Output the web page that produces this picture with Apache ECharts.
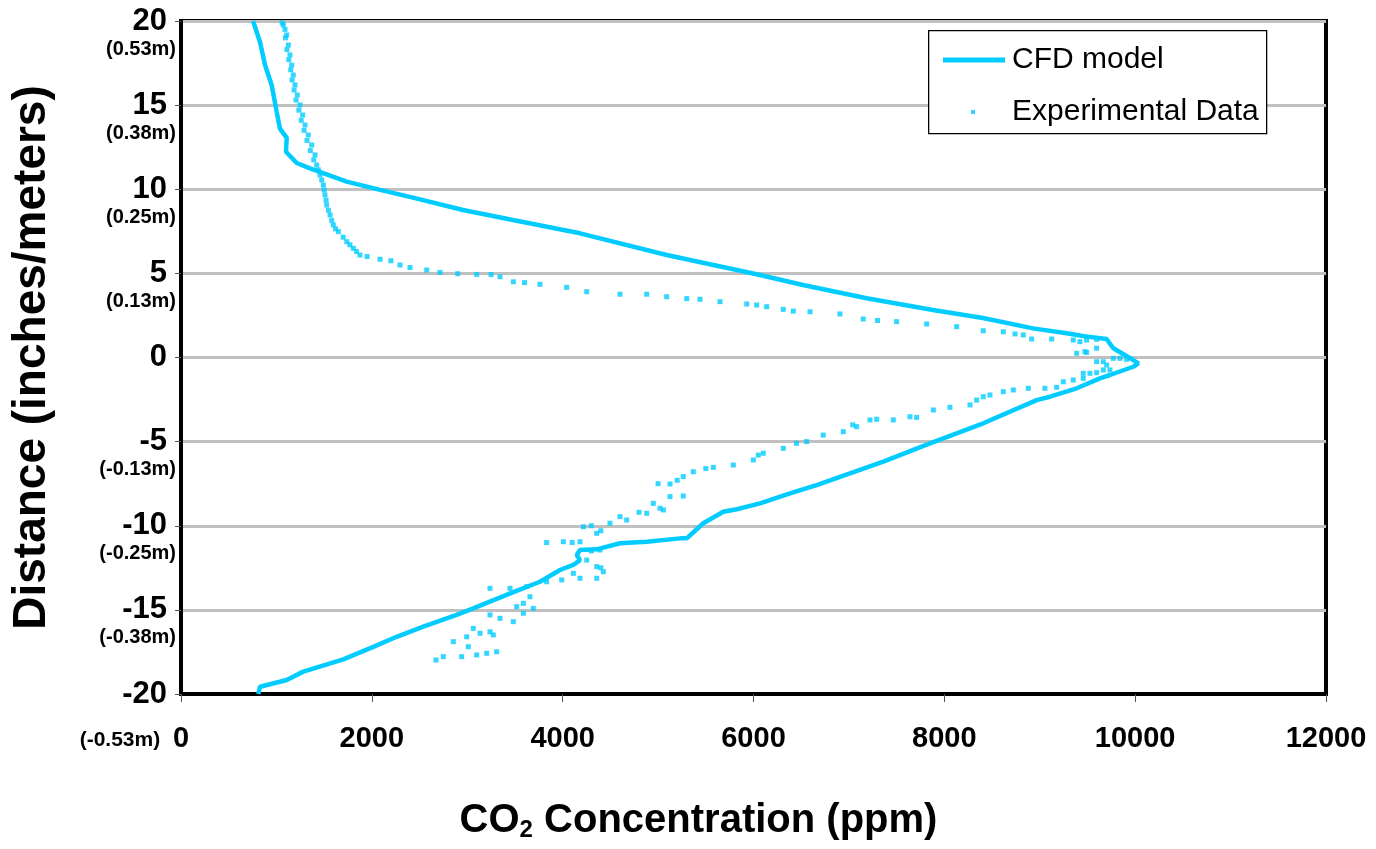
<!DOCTYPE html>
<html>
<head>
<meta charset="utf-8">
<script src="https://cdn.jsdelivr.net/npm/echarts@6/dist/echarts.min.js"></script>
<style>
html,body{margin:0;padding:0;background:#fff;}
#chart{width:1376px;height:849px;}
</style>
</head>
<body>
<div id="chart"></div>
<script>
// ---- data ----
const yTicks = [20, 15, 10, 5, 0, -5, -10, -15, -20];
const yMeters = {"20": "(0.53m)", "15": "(0.38m)", "10": "(0.25m)", "5": "(0.13m)", "0": "", "-5": "(-0.13m)", "-10": "(-0.25m)", "-15": "(-0.38m)", "-20": "(-0.53m)"};
const xTicks = [0, 2000, 4000, 6000, 8000, 10000, 12000];

const cfdConc = [755, 828, 880, 950, 1003, 1037, 1108, 1100, 1213, 1352, 1737, 2086, 2431, 2955, 3479, 4182, 5090, 6033, 6519, 7186, 7881, 8405, 8929, 9282, 9492, 9420, 9700, 9771, 9980, 10033, 9980, 9736, 9631, 9387, 9107, 8968, 8408, 7850, 7360, 7011, 6662, 6382, 6068, 5824, 5683, 5474, 5300, 5229, 4881, 4601, 4357, 4182, 4147, 4182, 4111, 3972, 3762, 3483, 3063, 2889, 2539, 2260, 2015, 1701, 1282, 1108, 828, 810];
const cfdDist = [20, 18.75, 17.4, 16.2, 14.6, 13.6, 13.05, 12.23, 11.56, 11.24, 10.45, 9.96, 9.5, 8.77, 8.17, 7.38, 6.09, 4.95, 4.31, 3.52, 2.82, 2.35, 1.73, 1.44, 1.24, 1.3, 1.1, 0.55, -0.15, -0.35, -0.55, -1.04, -1.24, -1.83, -2.33, -2.53, -3.91, -5.1, -6.19, -6.88, -7.58, -8.07, -8.67, -9.02, -9.17, -9.85, -10.75, -10.75, -10.95, -11.04, -11.4, -11.44, -11.74, -12.04, -12.33, -12.63, -13.33, -13.95, -14.91, -15.3, -16.0, -16.6, -17.2, -17.94, -18.67, -19.17, -19.57, -20];

const expConc = [1037,1060,1072,1090,1108,1095,1125,1110,1142,1130,1160,1150,1177,1165,1195,1185,1219,1205,1247,1235,1275,1260,1300,1290,1334,1320,1370,1355,1405,1390,1422,1440,1457,1475,1492,1500,1509,1520,1527,1545,1562,1580,1596,1620,1649,1700,1737,1770,1806,1840,1876,
 1950,2086,2200,2295,2400,2575,2714,2900,3099,3250,3343,3483,3600,3762,4042,4252,4601,4881,5090,5300,5439,5649,5929,6033,6138,6312,6417,6592,6906,7150,7300,7500,7815,8129,8408,8618,8741,8827,8915,9125,9351,9421,9491,9597,
 9387,9474,9596,9491,9596,9666,9701,9736,9771,9841,9911,9456,9526,9596,9666,9456,9351,9247,9177,9054,8880,8723,8618,
 8478,8408,8339,8269,8059,7885,7710,7640,7465,7291,7221,7081,7040,6941,6731,6557,6450,6312,6103,6050,5998,5788,5579,5500,5369,5264,5200,5125,5000,5125,5264,4950,5020,5055,4881,4800,4601,4671,4496,4217,4300,4357,4400,4007,3832,4182,4100,4391,4300,4252,4357,4426,4357,4182,4112,4400,3990,3832,3623,3448,3238,3657,3588,3692,3518,3588,3483,3238,3343,3063,3134,3238,3273,2854,2994,3011,3099,3204,3308,2941,2749,2672];
const expDist = [20.04,19.9,19.76,19.5,19.17,19.0,18.57,18.3,17.98,17.7,17.38,17.1,16.79,16.5,16.2,15.9,15.6,15.3,15.01,14.7,14.41,14.1,13.82,13.5,13.22,12.9,12.63,12.3,12.04,11.75,11.44,11.15,10.85,10.55,10.25,9.95,9.66,9.35,9.06,8.75,8.47,8.15,7.88,7.65,7.48,7.15,6.88,6.7,6.49,6.3,6.09,
 6.0,5.84,5.75,5.5,5.35,5.2,5.06,4.98,4.94,4.93,4.8,4.5,4.45,4.35,4.17,3.91,3.76,3.76,3.61,3.5,3.46,3.32,3.18,3.12,3.02,2.86,2.76,2.72,2.59,2.29,2.2,2.13,1.99,1.83,1.59,1.53,1.4,1.34,1.1,1.1,1.04,0.94,1.04,1.08,
 0.25,0.35,0.55,0.3,-0.25,-0.25,-0.45,-0.74,-0.05,-0.05,-0.11,-0.94,-0.94,-0.9,-0.74,-1.24,-1.34,-1.44,-1.77,-1.83,-1.83,-1.93,-2.03,
 -2.23,-2.33,-2.53,-2.82,-2.96,-3.12,-3.56,-3.52,-3.71,-3.67,-3.71,-4.11,-4.0,-4.41,-4.61,-5.0,-5.1,-5.4,-5.69,-5.8,-6.09,-6.39,-6.53,-6.6,-6.79,-7.08,-7.3,-7.52,-7.5,-8.27,-8.23,-8.67,-8.96,-9.06,-9.26,-9.2,-9.46,-9.66,-9.85,-10.06,-10.0,-10.45,-10.3,-10.95,-11.0,-10.95,-11.0,-11.44,-11.5,-12.04,-12.43,-12.73,-13.12,-13.12,-12.83,-12.5,-13.22,-13.33,-13.62,-13.72,-13.72,-14.22,-14.61,-14.91,-14.81,-15.2,-15.7,-15.3,-15.5,-16.1,-16.39,-16.3,-16.49,-16.89,-16.6,-17.19,-17.68,-17.58,-17.49,-17.78,-17.78,-17.98];

// ---- chart ----
const CYAN = '#00CCFF';
const SANS = '"Liberation Sans", Arial, sans-serif';

const chart = echarts.init(document.getElementById('chart'), null, {renderer: 'canvas'});

const option = {
  backgroundColor: '#fff',
  animation: false,
  grid: {left: 181, right: 50, top: 21, bottom: 155, outerBoundsMode: 'none', containLabel: false,
         show: true, borderColor: '#000', borderWidth: 4, backgroundColor: 'transparent'},
  xAxis: {
    type: 'value', min: xTicks[0], max: xTicks[xTicks.length - 1], interval: 2000,
    name: '{a|CO}{s|2}{a| Concentration (ppm)}',
    nameLocation: 'middle', nameGap: 106,
    nameTextStyle: {
      padding: [0, 110, 0, 0],
      rich: {
        a: {fontFamily: SANS, fontWeight: 'bold', fontSize: 40, color: '#000'},
        s: {fontFamily: SANS, fontWeight: 'bold', fontSize: 24, color: '#000', padding: [18, 0, 0, 0]}
      }
    },
    axisLine: {show: true, onZero: false, lineStyle: {color: '#000', width: 4}},
    axisTick: {show: true, length: 8, lineStyle: {color: '#555', width: 1}},
    splitLine: {show: false},
    axisLabel: {
      margin: 30, color: '#000', showMinLabel: true, showMaxLabel: true,
      formatter: function (v) {
        // the bottom y tick's metric note sits on the same row as the x axis's first label
        if (v === 0) return '{m|' + yMeters['-20'] + '}{q|}{v|' + v + '}{p|}';
        return '{v|' + v + '}';
      },
      rich: {
        v: {fontFamily: SANS, fontWeight: 'bold', fontSize: 29, color: '#000'},
        m: {fontFamily: SANS, fontWeight: 'bold', fontSize: 21, color: '#000', width: 90, align: 'right', padding: [3, 0, 0, 0]},
        q: {width: 8},
        p: {width: 98}
      }
    }
  },
  yAxis: {
    type: 'value', min: -20, max: 20, interval: 5,
    name: 'Distance (inches/meters)',
    nameLocation: 'middle', nameGap: 126, nameRotate: 90,
    nameTextStyle: {fontFamily: SANS, fontWeight: 'bold', fontSize: 46, color: '#000'},
    axisLine: {show: true, onZero: false, lineStyle: {color: '#000', width: 3}},
    axisTick: {show: true, length: 6, lineStyle: {color: '#555', width: 1}},
    splitLine: {show: true, lineStyle: {color: '#C0C0C0', width: 3}},
    axisLabel: {
      margin: 5, align: 'right', showMinLabel: true, showMaxLabel: true,
      formatter: function (v) {
        const m = yMeters[String(v)];
        if (!m || v === -20) return '{n|' + v + '}';
        return '{g| }\n{n|' + v + '}\n{m|' + m + '}';
      },
      rich: {
        n: {fontFamily: SANS, fontWeight: 'bold', fontSize: 31, color: '#000', lineHeight: 30, padding: [0, 9, 0, 0]},
        m: {fontFamily: SANS, fontWeight: 'bold', fontSize: 20, color: '#000', lineHeight: 26},
        g: {fontSize: 10, lineHeight: 26}
      }
    }
  },
  legend: [
    {
      data: ['CFD model'], left: 938, top: 40, orient: 'vertical', z: 20,
      itemWidth: 62, itemHeight: 5, icon: 'rect',
      textStyle: {fontFamily: SANS, fontSize: 30, color: '#000', padding: [0, 0, 0, 2]}
    },
    {
      data: ['Experimental Data'], left: 966, top: 92, orient: 'vertical', z: 20,
      itemWidth: 4, itemHeight: 4, icon: 'rect',
      textStyle: {fontFamily: SANS, fontSize: 30, color: '#000', padding: [0, 0, 0, 32]}
    }
  ],
  graphic: [
    {type: 'rect', left: 928, top: 30, z: 10, shape: {width: 338, height: 103}, style: {fill: '#fff', stroke: '#000', lineWidth: 1.3}}
  ],
  series: [
    {
      name: 'CFD model', type: 'line', showSymbol: false, symbol: 'none', smooth: false,
      lineStyle: {color: CYAN, width: 4.5}, itemStyle: {color: CYAN},
      data: cfdConc.map((c, i) => [c, cfdDist[i]]), z: 3
    },
    {
      name: 'Experimental Data', type: 'scatter', symbol: 'rect', symbolSize: 5,
      itemStyle: {color: CYAN},
      data: expConc.map((c, i) => [c, expDist[i]]), z: 4
    }
  ]
};
chart.setOption(option);
</script>
</body>
</html>
